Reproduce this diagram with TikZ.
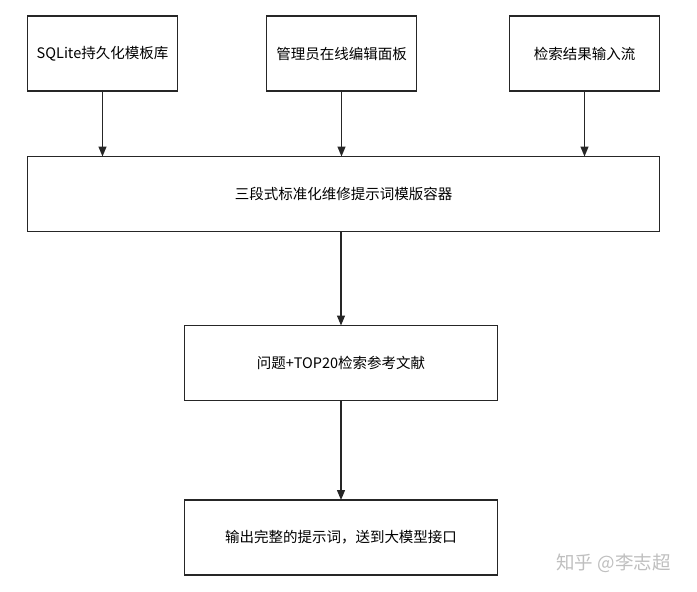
\documentclass[tikz,border=0pt]{standalone}
\usepackage{fontspec}
\setmainfont{Liberation Sans}
\newfontfamily\cjk{Noto Sans CJK SC}
\usetikzlibrary{arrows.meta}
\begin{document}
\begin{tikzpicture}[x=1pt,y=-1pt,
  box/.style={draw=black!85,line width=1.3pt,inner sep=0pt,outer sep=0pt,
    minimum height=75pt,font=\cjk\fontsize{14.5}{16}\selectfont,text=black},
  arr/.style={draw=black!85,line width=1.3pt,-{Triangle[length=10pt,width=8pt]}}]
\useasboundingbox (0,0) rectangle (697,592);
\node[box,minimum width=150pt] (b1) at (102.5,53.5) {SQLite持久化模板库};
\node[box,minimum width=150pt] (b2) at (341.5,53.5) {管理员在线编辑面板};
\node[box,minimum width=150pt] (b3) at (584.5,53.5) {检索结果输入流};
\node[box,minimum width=632pt] (big) at (343.5,194) {三段式标准化维修提示词模版容器};
\node[box,minimum width=313pt] (mid) at (341,363) {问题+TOP20检索参考文献};
\node[box,minimum width=313pt] (bot) at (341,537.5) {输出完整的提示词，送到大模型接口};
\draw[arr] (b1.south) -- (b1.south |- big.north);
\draw[arr] (b2.south) -- (b2.south |- big.north);
\draw[arr] (b3.south) -- (b3.south |- big.north);
\draw[arr] (mid.north |- big.south) -- (mid.north);
\draw[arr] (mid.south) -- (bot.north);
\node[text=black!25,font=\cjk\fontsize{18.5}{20}\selectfont,inner sep=0pt] (wm) at (613.5,563) {知乎 @李志超};
\end{tikzpicture}
\end{document}
